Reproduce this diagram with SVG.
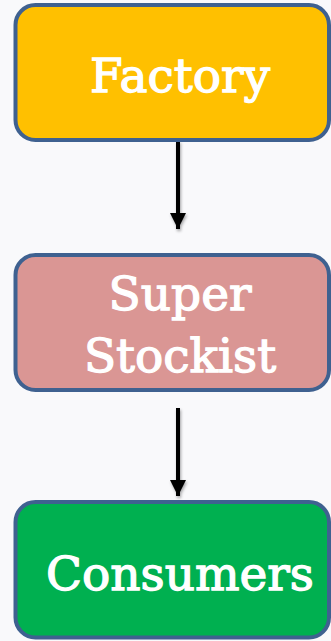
<svg xmlns="http://www.w3.org/2000/svg" width="331" height="641" viewBox="0 0 331 641">
<defs>
<style>
.box{stroke:#3F6190;stroke-width:4}
.lbl{font-family:"DejaVu Serif","Liberation Serif",serif;font-size:47px;fill:#FFFFFF;stroke:#FFFFFF;stroke-width:1.3;text-anchor:middle}
.conn{stroke:#000;stroke-width:4;fill:none}
</style>
<marker id="ah" markerUnits="userSpaceOnUse" markerWidth="16" markerHeight="17" refX="16" refY="8" orient="auto">
<path d="M0,0 L16,8 L0,16 Z" fill="#000"/>
</marker>
<filter id="sh" filterUnits="userSpaceOnUse" x="0" y="0" width="331" height="641">
<feDropShadow dx="1" dy="2" stdDeviation="1.5" flood-color="#000" flood-opacity="0.35"/>
</filter>
</defs>
<rect width="331" height="641" fill="#F9F9FB"/>
<g id="connectors" filter="url(#sh)">
<line class="conn" x1="178" y1="141" x2="178" y2="229" marker-end="url(#ah)"/>
<line class="conn" x1="178" y1="408" x2="178" y2="496" marker-end="url(#ah)"/>
</g>
<g id="factory">
<rect class="box" x="15.5" y="5" width="313.5" height="135" rx="20" fill="#FFC000"/>
<text class="lbl" x="180" y="92">Factory</text>
</g>
<g id="super-stockist">
<rect class="box" x="15.5" y="255" width="313.5" height="135" rx="20" fill="#DA9694"/>
<text class="lbl" x="180" y="310">Super</text>
<text class="lbl" x="180" y="372">Stockist</text>
</g>
<g id="consumers">
<rect class="box" x="15.5" y="502" width="313.5" height="135.5" rx="20" fill="#00B050"/>
<text class="lbl" x="180" y="590">Consumers</text>
</g>
</svg>
